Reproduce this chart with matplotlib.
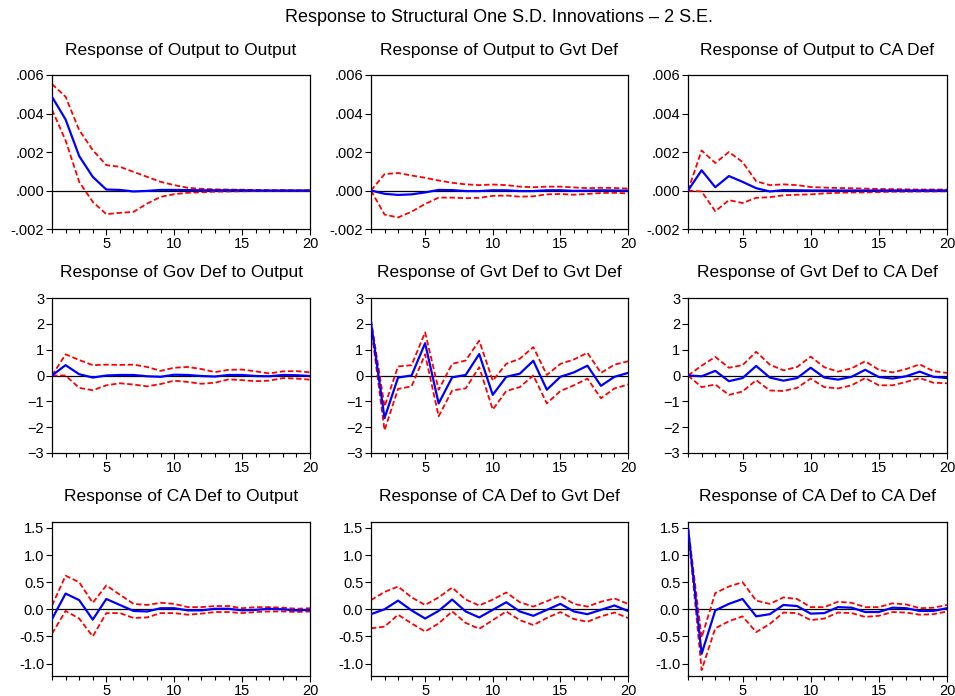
import numpy as np
import matplotlib
matplotlib.use("Agg")
import matplotlib.pyplot as plt
from matplotlib.ticker import FuncFormatter, MultipleLocator

plt.rcParams['font.family'] = ['Liberation Sans', 'DejaVu Sans']

periods = np.arange(1, 21)

titles = [
    "Response of Output to Output", "Response of Output to Gvt Def", "Response of Output to CA Def",
    "Response of Gov Def to Output", "Response of Gvt Def to Gvt Def", "Response of Gvt Def to CA Def",
    "Response of CA Def to Output", "Response of CA Def to Gvt Def", "Response of CA Def to CA Def",
]

# Output responses
out_out = [0.00487, 0.00369, 0.00179, 0.00071, 0.00005, 0.00003, -0.00005, -0.00002, 0.00003, 0.00003,
           0.00002, 0.00001, 0.00001, 0.00001, 0.00001, 0.0, 0.0, 0.0, 0.0, 0.0]
out_out_hi = [0.00553, 0.00487, 0.00314, 0.0021, 0.00132, 0.00123, 0.00097, 0.00071, 0.00045, 0.00028,
              0.00014, 0.00009, 0.00006, 0.00005, 0.00004, 0.00003, 0.00002, 0.00002, 0.00001, 0.00001]
out_out_lo = [0.0042, 0.0026, 0.00045, -0.00059, -0.00123, -0.00116, -0.00111, -0.00068, -0.00033, -0.00019,
              -0.00012, -0.00009, -0.00006, -0.00005, -0.00004, -0.00003, -0.00003, -0.00002, -0.00002, -0.00002]

out_gvt = [0.0, -0.00017, -0.00023, -0.0002, -0.0001, 0.00003, 0.00002, -0.00003, -0.00003, 0.00001,
           0.00001, -0.00003, -0.00003, 0.00001, 0.00001, -0.00002, -0.00001, 0.00001, 0.0, -0.00001]
out_gvt_hi = [0.0, 0.00085, 0.00091, 0.00078, 0.00066, 0.00052, 0.0004, 0.00032, 0.00028, 0.00031,
              0.00028, 0.0002, 0.00017, 0.0002, 0.0002, 0.00016, 0.00012, 0.00014, 0.00013, 0.0001]
out_gvt_lo = [0.0, -0.00125, -0.0014, -0.0011, -0.0007, -0.00037, -0.00037, -0.0004, -0.00038, -0.00028,
              -0.00026, -0.00032, -0.0003, -0.0002, -0.00018, -0.00022, -0.00018, -0.00013, -0.00012, -0.00015]

out_ca = [0.0, 0.00105, 0.00017, 0.00075, 0.00045, 0.00012, -0.00005, 0.00002, 0.00001, 0.0,
          0.0, 0.0, 0.0, 0.0, 0.0, 0.0, 0.0, 0.0, 0.0, 0.0]
out_ca_hi = [0.0, 0.00208, 0.00143, 0.002, 0.00148, 0.00048, 0.00028, 0.00032, 0.00028, 0.00018,
             0.00015, 0.00013, 0.00012, 0.0001, 0.00008, 0.00007, 0.00006, 0.00005, 0.00005, 0.00005]
out_ca_lo = [0.0, -0.00005, -0.00108, -0.0005, -0.00065, -0.00038, -0.00035, -0.00025, -0.00022, -0.0002,
             -0.00015, -0.00012, -0.0001, -0.0001, -0.00008, -0.00006, -0.00006, -0.00005, -0.00005, -0.00004]

# Government deficit responses
gov_out = [0.0, 0.4, 0.05, -0.08, 0.0, 0.02, 0.02, -0.03, -0.05, 0.03,
           0.02, -0.02, -0.04, 0.02, 0.02, -0.02, -0.03, 0.02, 0.01, -0.02]
gov_out_hi = [0.0, 0.82, 0.6, 0.4, 0.42, 0.41, 0.42, 0.33, 0.18, 0.3,
              0.33, 0.25, 0.13, 0.22, 0.23, 0.16, 0.08, 0.16, 0.17, 0.12]
gov_out_lo = [0.0, 0.0, -0.48, -0.57, -0.38, -0.3, -0.35, -0.42, -0.33, -0.2,
              -0.25, -0.32, -0.28, -0.15, -0.18, -0.22, -0.2, -0.1, -0.12, -0.16]

gov_gvt = [2.05, -1.65, -0.08, 0.0, 1.25, -1.08, -0.07, 0.02, 0.83, -0.75,
           -0.05, 0.07, 0.57, -0.55, -0.05, 0.12, 0.38, -0.4, -0.05, 0.1]
gov_gvt_hi = [2.15, -1.2, 0.35, 0.4, 1.67, -0.55, 0.45, 0.58, 1.35, -0.2,
              0.45, 0.65, 1.1, 0.02, 0.45, 0.62, 0.88, 0.1, 0.42, 0.55]
gov_gvt_lo = [1.9, -2.12, -0.52, -0.42, 0.82, -1.58, -0.58, -0.5, 0.32, -1.32,
              -0.6, -0.45, 0.0, -1.08, -0.6, -0.38, -0.12, -0.88, -0.5, -0.35]

gov_ca = [0.0, -0.03, 0.18, -0.22, -0.1, 0.37, -0.08, -0.2, -0.1, 0.3,
          -0.08, -0.16, -0.05, 0.22, -0.06, -0.12, -0.03, 0.15, -0.05, -0.1]
gov_ca_hi = [0.0, 0.38, 0.72, 0.3, 0.4, 0.92, 0.42, 0.2, 0.33, 0.73,
             0.32, 0.15, 0.28, 0.55, 0.22, 0.12, 0.25, 0.43, 0.17, 0.1]
gov_ca_lo = [0.0, -0.45, -0.35, -0.75, -0.62, -0.18, -0.58, -0.6, -0.48, -0.12,
             -0.45, -0.5, -0.38, -0.1, -0.38, -0.38, -0.25, -0.1, -0.28, -0.3]

# Current account deficit responses
ca_out = [-0.18, 0.29, 0.17, -0.19, 0.19, 0.08, -0.03, -0.04, 0.02, 0.02,
          -0.02, -0.02, 0.01, 0.01, -0.02, -0.01, 0.01, 0.0, -0.02, -0.01]
ca_out_hi = [0.07, 0.62, 0.5, 0.12, 0.44, 0.27, 0.1, 0.08, 0.12, 0.1,
             0.04, 0.04, 0.06, 0.06, 0.02, 0.04, 0.04, 0.03, 0.01, 0.02]
ca_out_lo = [-0.45, -0.03, -0.17, -0.5, -0.07, -0.07, -0.16, -0.15, -0.07, -0.07,
             -0.1, -0.08, -0.05, -0.05, -0.07, -0.05, -0.04, -0.04, -0.05, -0.04]

ca_gvt = [-0.09, 0.0, 0.16, -0.02, -0.17, -0.03, 0.18, -0.04, -0.15, -0.01,
          0.13, -0.04, -0.12, -0.01, 0.1, -0.04, -0.09, -0.01, 0.07, -0.03]
ca_gvt_hi = [0.17, 0.32, 0.42, 0.22, 0.08, 0.22, 0.4, 0.18, 0.07, 0.18,
             0.31, 0.13, 0.05, 0.15, 0.25, 0.1, 0.05, 0.14, 0.2, 0.1]
ca_gvt_lo = [-0.35, -0.32, -0.1, -0.26, -0.41, -0.26, -0.04, -0.25, -0.36, -0.2,
             -0.04, -0.2, -0.29, -0.16, -0.05, -0.18, -0.23, -0.13, -0.06, -0.16]

ca_ca = [1.5, -0.82, -0.02, 0.1, 0.19, -0.13, -0.09, 0.08, 0.06, -0.08,
         -0.07, 0.04, 0.03, -0.05, -0.05, 0.03, 0.02, -0.03, -0.03, 0.02]
ca_ca_hi = [1.52, -0.52, 0.3, 0.42, 0.5, 0.16, 0.1, 0.22, 0.19, 0.04,
            0.04, 0.14, 0.12, 0.04, 0.04, 0.11, 0.09, 0.02, 0.03, 0.08]
ca_ca_lo = [1.48, -1.12, -0.35, -0.22, -0.13, -0.42, -0.27, -0.06, -0.07, -0.2,
            -0.17, -0.06, -0.07, -0.14, -0.12, -0.05, -0.06, -0.1, -0.09, -0.04]

resp = [out_out, out_gvt, out_ca, gov_out, gov_gvt, gov_ca, ca_out, ca_gvt, ca_ca]
upper = [out_out_hi, out_gvt_hi, out_ca_hi, gov_out_hi, gov_gvt_hi, gov_ca_hi, ca_out_hi, ca_gvt_hi, ca_ca_hi]
lower = [out_out_lo, out_gvt_lo, out_ca_lo, gov_out_lo, gov_gvt_lo, gov_ca_lo, ca_out_lo, ca_gvt_lo, ca_ca_lo]

W, H = 955, 696
fig = plt.figure(figsize=(W / 100, H / 100), dpi=100)
fig.text(499 / W, 1 - 18 / H, "Response to Structural One S.D. Innovations \u2013 2 S.E.",
         ha='center', va='center', fontsize=13)

col_x = [(52, 310), (371, 628), (688, 947)]
row_y = [(75, 229), (298, 453), (522, 676)]
title_y = [50, 272, 497]


def fmt_small(v, pos):
    s = "%.3f" % v
    return s.replace("0.", ".")


for i in range(9):
    r, c = divmod(i, 3)
    x0, x1 = col_x[c]
    y0, y1 = row_y[r]
    ax = fig.add_axes([x0 / W, 1 - y1 / H, (x1 - x0) / W, (y1 - y0) / H])
    ax.axhline(0, color='black', lw=0.9, zorder=1)
    ax.plot(periods, upper[i], color='red', ls='--', lw=1.3, dashes=(3, 1.5), zorder=2)
    ax.plot(periods, lower[i], color='red', ls='--', lw=1.3, dashes=(3, 1.5), zorder=2)
    ax.plot(periods, resp[i], color='blue', lw=1.6, zorder=3)
    ax.set_xlim(1, 20)
    ax.set_xticks([5, 10, 15, 20])
    ax.xaxis.set_minor_locator(MultipleLocator(1))
    if r == 0:
        ax.set_ylim(-0.002, 0.006)
        ax.set_yticks([-0.002, 0.0, 0.002, 0.004, 0.006])
        ax.yaxis.set_major_formatter(FuncFormatter(fmt_small))
    elif r == 1:
        ax.set_ylim(-3, 3)
        ax.set_yticks([-3, -2, -1, 0, 1, 2, 3])
    else:
        ax.set_ylim(-1.23, 1.61)
        ax.set_yticks([-1.0, -0.5, 0.0, 0.5, 1.0, 1.5])
        ax.yaxis.set_major_formatter(FuncFormatter(lambda v, p: "%.1f" % v))
    ax.tick_params(axis='both', which='major', direction='out', length=4, width=0.8,
                   labelsize=10.5, pad=1.5, top=False, right=False)
    ax.tick_params(axis='x', which='minor', direction='out', length=3, width=0.8, top=False)
    for sp in ax.spines.values():
        sp.set_linewidth(0.9)
    fig.text((x0 + x1) / 2 / W, 1 - title_y[r] / H, titles[i], ha='center', va='center', fontsize=12.5)

fig.savefig("out.png", dpi=100)
